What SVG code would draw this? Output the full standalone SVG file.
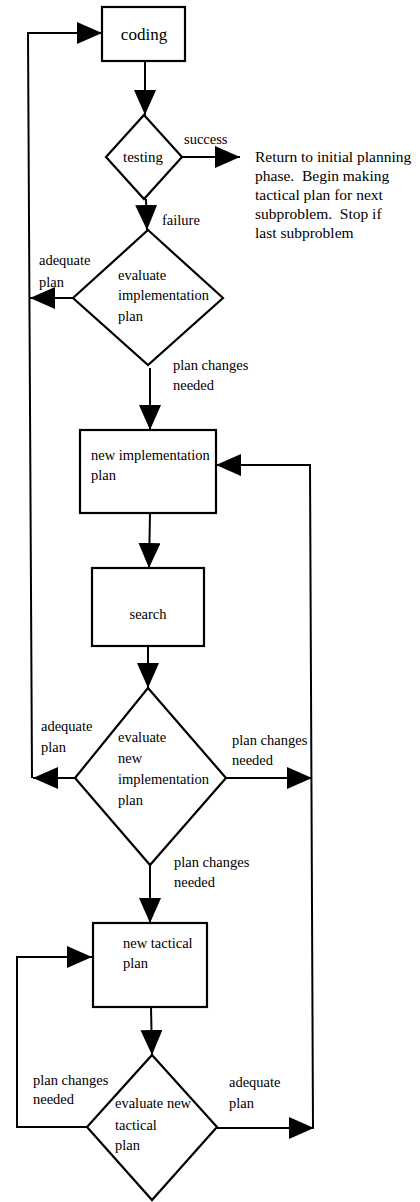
<svg xmlns="http://www.w3.org/2000/svg" width="420" height="1202" viewBox="0 0 420 1202">
  <style>
    .shape { fill: #ffffff; stroke: #000000; stroke-width: 2.2; }
    .wire { fill: none; stroke: #000000; stroke-width: 2; }
    text { font-family: "Liberation Serif", "Times New Roman", serif; font-size: 14.5px; fill: #000000; }
    .note { font-size: 15.5px; white-space: pre; }
    .mid { text-anchor: middle; }
  </style>
  <defs>
    <marker id="head" viewBox="0 0 25 22" refX="25" refY="11" markerWidth="25" markerHeight="22" markerUnits="userSpaceOnUse" orient="auto">
      <path d="M0,0 L25,11 L0,22 Z" fill="#000000"/>
    </marker>
  </defs>
  <rect width="420" height="1202" fill="#ffffff"/>

  <!-- connectors -->
  <g id="connectors">
    <path class="wire" d="M145,61 L145,115" marker-end="url(#head)"/>
    <path class="wire" d="M182,157 L240,157" marker-end="url(#head)"/>
    <path class="wire" d="M146,199 L147,230" marker-end="url(#head)"/>
    <path class="wire" d="M73,298 L30,298" marker-end="url(#head)"/>
    <path class="wire" d="M32,778 L28,33 L102,33" marker-end="url(#head)"/>
    <path class="wire" d="M150,368 L150,430" marker-end="url(#head)"/>
    <path class="wire" d="M150,513 L149,568" marker-end="url(#head)"/>
    <path class="wire" d="M148,646 L148,688" marker-end="url(#head)"/>
    <path class="wire" d="M75,778 L33,778" marker-end="url(#head)"/>
    <path class="wire" d="M226,778 L312,778" marker-end="url(#head)"/>
    <path class="wire" d="M313,1128 L310,465 L216,465" marker-end="url(#head)"/>
    <path class="wire" d="M150,865 L150,923" marker-end="url(#head)"/>
    <path class="wire" d="M151,1007 L152,1055" marker-end="url(#head)"/>
    <path class="wire" d="M87,1127 L17,1127 L17,957 L92,957" marker-end="url(#head)"/>
    <path class="wire" d="M217,1128 L314,1128" marker-end="url(#head)"/>
  </g>

  <!-- connector labels -->
  <g id="labels">
    <text x="184" y="144">success</text>
    <text x="162" y="225">failure</text>
    <text x="39" y="265">adequate</text>
    <text x="39" y="287">plan</text>
    <text x="173" y="370">plan changes</text>
    <text x="173" y="390">needed</text>
    <text x="41" y="731">adequate</text>
    <text x="41" y="752">plan</text>
    <text x="232" y="745">plan changes</text>
    <text x="232" y="765">needed</text>
    <text x="174" y="867">plan changes</text>
    <text x="174" y="887">needed</text>
    <text x="33" y="1085">plan changes</text>
    <text x="33" y="1104">needed</text>
    <text x="229" y="1087">adequate</text>
    <text x="229" y="1108">plan</text>
  </g>

  <g id="coding">
    <rect class="shape" x="102" y="7" width="83" height="54"/>
    <text class="mid" x="144" y="40" style="font-size:17px">coding</text>
  </g>

  <g id="testing">
    <polygon class="shape" points="144,115 182,157 144,199 106,157"/>
    <text class="mid" x="143" y="162" style="font-size:15px">testing</text>
  </g>

  <g id="return-note">
    <text class="note" x="255" y="162">Return to initial planning</text>
    <text class="note" x="255" y="181">phase.  Begin making</text>
    <text class="note" x="255" y="200">tactical plan for next</text>
    <text class="note" x="255" y="219">subproblem.  Stop if</text>
    <text class="note" x="255" y="238">last subproblem</text>
  </g>

  <g id="evaluate-implementation">
    <polygon class="shape" points="148,230 223,298 148,365 73,298"/>
    <text x="118" y="280">evaluate</text>
    <text x="118" y="300">implementation</text>
    <text x="118" y="321">plan</text>
  </g>

  <g id="new-implementation">
    <rect class="shape" x="80" y="430" width="136" height="83"/>
    <text x="91" y="460">new implementation</text>
    <text x="91" y="480">plan</text>
  </g>

  <g id="search">
    <rect class="shape" x="92" y="568" width="112" height="78"/>
    <text class="mid" x="148" y="619">search</text>
  </g>

  <g id="evaluate-new-implementation">
    <polygon class="shape" points="148,688 226,778 150,865 75,778"/>
    <text x="118" y="742">evaluate</text>
    <text x="118" y="763">new</text>
    <text x="118" y="784">implementation</text>
    <text x="118" y="805">plan</text>
  </g>

  <g id="new-tactical">
    <rect class="shape" x="93" y="923" width="114" height="84"/>
    <text x="123" y="948">new tactical</text>
    <text x="123" y="968">plan</text>
  </g>

  <g id="evaluate-new-tactical">
    <polygon class="shape" points="152,1055 217,1127 152,1200 87,1127"/>
    <text x="115" y="1108">evaluate new</text>
    <text x="115" y="1130">tactical</text>
    <text x="115" y="1150">plan</text>
  </g>
</svg>
